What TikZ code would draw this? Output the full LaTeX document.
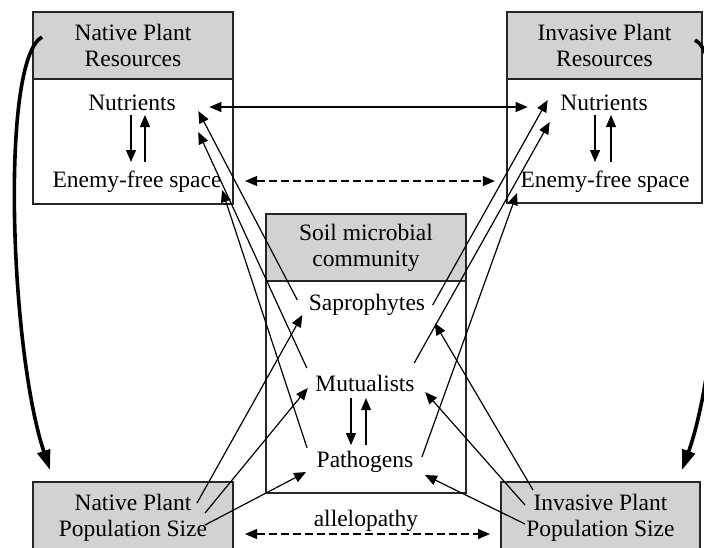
\documentclass[tikz,border=0pt]{standalone}
\usepackage{fontspec}
\setmainfont{Liberation Serif}
\usetikzlibrary{arrows.meta,positioning}

\begin{document}
\begin{tikzpicture}[->,>={Triangle[length=6pt,width=5pt]},x=0.5pt,y=-0.5pt,
  line width=0.6pt,font=\fontsize{11.75}{13}\selectfont,
  head node/.style={draw=black!85,fill=gray!35,line width=0.6pt,outer sep=0pt,
    inner sep=0pt,align=center,minimum width=100pt,minimum height=33.5pt},
  body node/.style={draw=black!85,line width=0.6pt,outer sep=0pt,minimum width=100pt},
  item node/.style={inner sep=0pt},
  big arrow/.style={line width=1.8pt,>={Triangle[length=10pt,width=6.5pt]}}]

  \useasboundingbox (0,0) rectangle (704,547);
  \clip (0,0) rectangle (704,547);

  % boxes
  \node[head node] (nrhead) at (133,45.5) {Native Plant\\Resources};
  \node[body node,minimum height=62.5pt,below=0pt of nrhead] (nrbody) {};
  \node[head node,minimum width=97.5pt] (irhead) at (604.5,45.5) {Invasive Plant\\Resources};
  \node[body node,minimum width=97.5pt,minimum height=62pt,below=0pt of irhead] (irbody) {};
  \node[head node] (smhead) at (366,247.5) {Soil microbial\\community};
  \node[body node,minimum height=106pt,below=0pt of smhead] (smbody) {};
  \node[head node,minimum height=36pt] (nps) at (133,518) {Native Plant\\Population Size};
  \node[head node,minimum width=99.5pt,minimum height=36pt] (ips) at (600.5,518) {Invasive Plant\\Population Size};

  \node[item node] (nnut) at (132,103) {Nutrients};
  \node[item node] (nefs) at (137,182) {Enemy-free space};
  \node[item node] (inut) at (604,103) {Nutrients};
  \node[item node] (iefs) at (605,182) {Enemy-free space};
  \node[item node] (sap) at (367,305) {Saprophytes};
  \node[item node] (mut) at (365,383) {Mutualists};
  \node[item node] (pat) at (365,462) {Pathogens};
  \node[item node] (alle) at (366,521) {allelopathy};

  % between the resources
  \draw[<->] ([shift={(33,4)}]nnut.east) -- ([shift={(-32,4)}]inut.west);
  \draw[<->,dash pattern=on 4pt off 2pt] ([shift={(23,-1)}]nefs.east) -- ([shift={(-25,-1)}]iefs.west);
  \draw[<->,dash pattern=on 4pt off 2pt] ([shift={(12,16)}]nps.east) -- ([shift={(-11,16)}]ips.west);

  \draw ([shift={(-1,12)}]nnut.center) -- ([shift={(-6,-20)}]nefs.center);
  \draw ([shift={(8,-20)}]nefs.center) -- ([shift={(13,12)}]nnut.center);
  \draw ([shift={(-9,12)}]inut.center) -- ([shift={(-10,-20)}]iefs.center);
  \draw ([shift={(6,-20)}]iefs.center) -- ([shift={(7,12)}]inut.center);
  \draw ([shift={(-14,15)}]mut.center) -- ([shift={(-14,-17)}]pat.center);
  \draw ([shift={(1,-17)}]pat.center) -- ([shift={(1,15)}]mut.center);

  % microbes to resources
  \draw ([shift={(-11,-5)}]sap.west) -- ([shift={(22,8)}]nnut.east);
  \draw ([shift={(-8,-15)}]mut.west) -- ([shift={(22,29)}]nnut.east);
  \draw ([shift={(-9,-14)}]pat.west) -- ([shift={(0,8)}]nefs.east);
  \draw ([shift={(7,0)}]sap.east) -- ([shift={(-12,-3)}]inut.west);
  \draw ([shift={(-1,-20)}]mut.east) -- ([shift={(-10,19)}]inut.west);
  \draw ([shift={(8,-5)}]pat.east) -- ([shift={(-3,11)}]iefs.west);

  % populations to microbes
  \draw ([shift={(-36,21)}]nps.north east) -- ([shift={(-6,10)}]sap.west);
  \draw ([shift={(-28,31)}]nps.north east) -- ([shift={(-7,5)}]mut.west);
  \draw ([shift={(-28,43)}]nps.north east) -- ([shift={(-10,10)}]pat.west);
  \draw ([shift={(32,8)}]ips.north west) -- ([shift={(9,18)}]sap.east);
  \draw ([shift={(24,23)}]ips.north west) -- ([shift={(10,9)}]mut.east);
  \draw ([shift={(24,42)}]ips.north west) -- ([shift={(11,13)}]pat.east);

  % resources to populations
  \draw[big arrow] ([shift={(9,-8.5)}]nrhead.west) .. controls (0,60) and (10,350) .. ([shift={(17,-12)}]nps.north west);
  \draw[big arrow] ([shift={(-7,-5.5)}]irhead.east) .. controls (735,60) and (725,350) .. ([shift={(-18,-12)}]ips.north east);

\end{tikzpicture}
\end{document}
